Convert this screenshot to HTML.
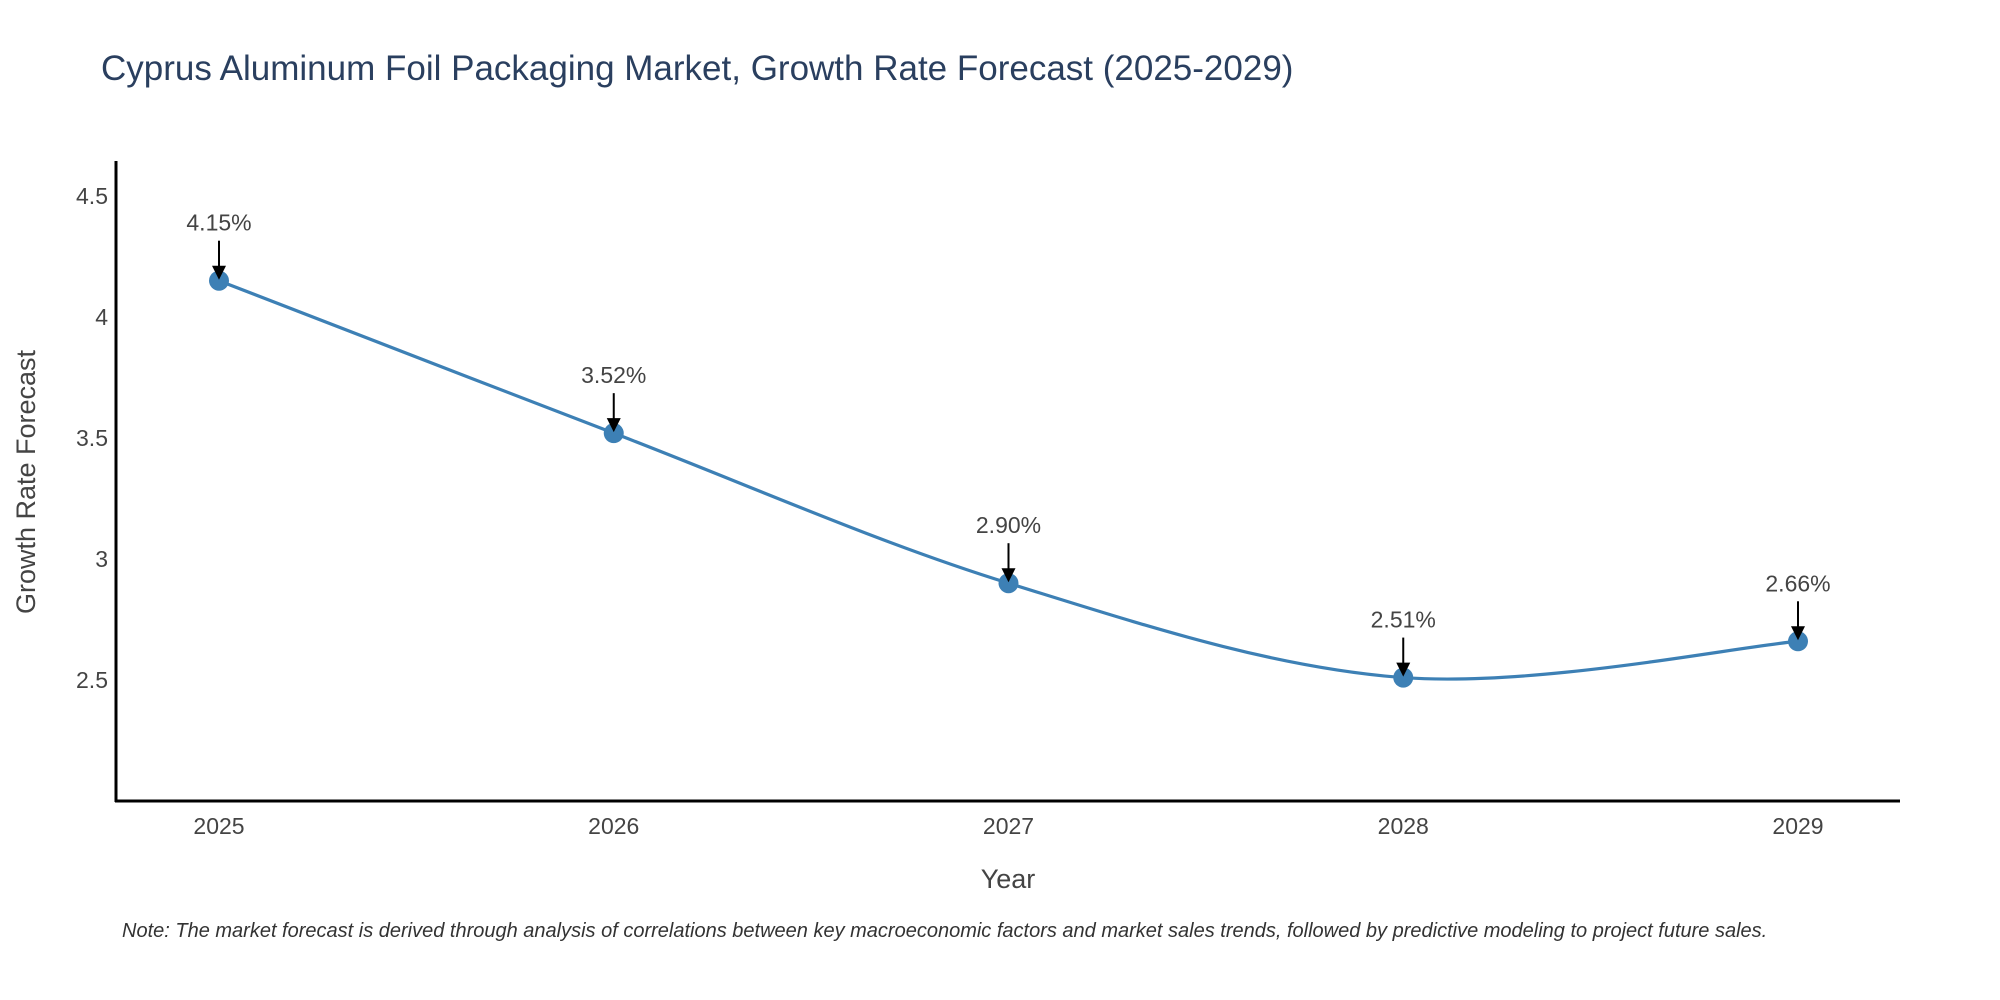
<!DOCTYPE html>
<html><head><meta charset="utf-8"><style>
body{margin:0;background:#fff;}
svg{display:block;font-family:"Liberation Sans",sans-serif;}
</style></head><body>
<svg width="2000" height="1000" xmlns="http://www.w3.org/2000/svg">
<text x="101" y="80" font-size="35" fill="#2a3f5f">Cyprus Aluminum Foil Packaging Market, Growth Rate Forecast (2025-2029)</text>
<g id="plot"></g>
<line x1="116" y1="161" x2="116" y2="802" stroke="#000" stroke-width="3"/>
<line x1="115" y1="801" x2="1900" y2="801" stroke="#000" stroke-width="3"/>
<text x="1008" y="888" font-size="27" fill="#444" text-anchor="middle">Year</text>
<text transform="translate(35,482) rotate(-90)" font-size="27" fill="#444" text-anchor="middle">Growth Rate Forecast</text>
<text x="122" y="937" font-size="20" font-style="italic" fill="#333">Note: The market forecast is derived through analysis of correlations between key macroeconomic factors and market sales trends, followed by predictive modeling to project future sales.</text>
</svg>
<script>
const years=["2025","2026","2027","2028","2029"];
const values=[4.15,3.52,2.90,2.51,2.66];
const labels=["4.15%","3.52%","2.90%","2.51%","2.66%"];
const yTicks=[2.5,3,3.5,4,4.5];
const yTickLabels=["2.5","3","3.5","4","4.5"];
const NS="http://www.w3.org/2000/svg";
const g=document.getElementById('plot');
function xS(i){return 219+i*394.75;}
function yS(v){return 680-(v-2.5)*242;}
function mk(t,a){const e=document.createElementNS(NS,t);for(const k in a)e.setAttribute(k,a[k]);g.appendChild(e);return e;}
yTicks.forEach((v,i)=>{const t=mk('text',{x:108,y:yS(v)+8,'font-size':23,fill:'#444','text-anchor':'end'});t.textContent=yTickLabels[i];

});
years.forEach((y,i)=>{const t=mk('text',{x:xS(i),y:834,'font-size':23,fill:'#444','text-anchor':'middle'});t.textContent=y;

});
const P=values.map((v,i)=>[xS(i),yS(v)]);
let d='M'+P[0][0]+','+P[0][1];
for(let i=0;i<P.length-1;i++){const p0=P[Math.max(0,i-1)],p1=P[i],p2=P[i+1],p3=P[Math.min(P.length-1,i+2)];const s=6;
d+=` C${p1[0]+(p2[0]-p0[0])/s},${p1[1]+(p2[1]-p0[1])/s} ${p2[0]-(p3[0]-p1[0])/s},${p2[1]-(p3[1]-p1[1])/s} ${p2[0]},${p2[1]}`;}
const line=mk('path',{d:d,fill:'none',stroke:'#3d80b5','stroke-width':3.2});


P.forEach((p,i)=>{const c=mk('circle',{cx:p[0],cy:p[1],r:10,fill:'#3d80b5'});


const a=mk('line',{x1:p[0],y1:p[1]-40,x2:p[0],y2:p[1]-12,stroke:'#000','stroke-width':2});


const h=mk('path',{d:`M${p[0]-7},${p[1]-15} L${p[0]+7},${p[1]-15} L${p[0]},${p[1]-1} Z`,fill:'#000'});


const t=mk('text',{x:p[0],y:p[1]-50,'font-size':23,fill:'#444','text-anchor':'middle'});t.textContent=labels[i];

});
</script>
</body></html>
